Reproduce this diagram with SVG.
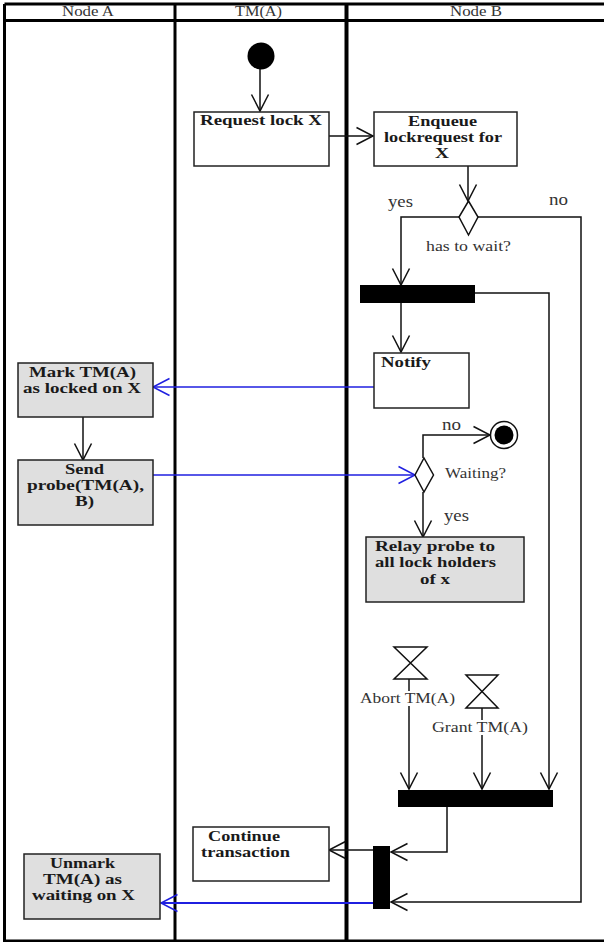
<svg xmlns="http://www.w3.org/2000/svg" width="604" height="942" viewBox="0 0 604 942">
<style>
text{font-family:"Liberation Serif","Times New Roman",serif;fill:#222}
.b{font-weight:bold;font-size:15px;fill:#1a1a1a}
.r{font-size:14px;fill:#333}
.l{font-size:17px;fill:#333}
.act{fill:#fff;stroke:#222;stroke-width:1.500}
.gray{fill:#dfdfdf}
.bar{fill:#000}
.c{fill:none;stroke:#111;stroke-width:1.500}
.blue{fill:none;stroke:#1f1fe0;stroke-width:1.500}
.d{fill:#fff;stroke:#111;stroke-width:1.500}
.frame{fill:none;stroke:#000}
</style>
<defs>
<marker id="a" markerUnits="userSpaceOnUse" markerWidth="20" markerHeight="22" refX="17" refY="10" orient="auto" overflow="visible"><path d="M0.500 1.500L17 10L0.500 18.500" fill="none" stroke="#111" stroke-width="1.500"/></marker>
<marker id="ab" markerUnits="userSpaceOnUse" markerWidth="20" markerHeight="22" refX="17" refY="10" orient="auto" overflow="visible"><path d="M0.500 1.500L17 10L0.500 18.500" fill="none" stroke="#1f1fe0" stroke-width="1.500"/></marker>
</defs>
<g id="swimlanes">
<path class="frame" stroke-width="3" d="M4.500 4H604M4.500 20.500H604M4.500 4V941H604"/>
<path class="frame" stroke-width="3" d="M175 4V941"/>
<path class="frame" stroke-width="4" d="M346.500 4V941"/>
<text class="r" x="62" y="16" textLength="52" lengthAdjust="spacingAndGlyphs">Node A</text>
<text class="r" x="235" y="16" textLength="47" lengthAdjust="spacingAndGlyphs">TM(A)</text>
<text class="r" x="450" y="16" textLength="52" lengthAdjust="spacingAndGlyphs">Node B</text>
</g>
<g id="connectors">
<path class="c" marker-end="url(#a)" d="M260 69V111"/>
<path class="c" marker-end="url(#a)" d="M329 136H373"/>
<path class="c" marker-end="url(#a)" d="M468 166V201"/>
<path class="c" marker-end="url(#a)" d="M459 217H401V285"/>
<path class="c" marker-end="url(#a)" d="M478 217H581V902H391"/>
<path class="c" marker-end="url(#a)" d="M401 302V352"/>
<path class="c" marker-end="url(#a)" d="M475 293H549V789"/>
<path class="blue" marker-end="url(#ab)" d="M374 387H153"/>
<path class="c" marker-end="url(#a)" d="M83 417V460"/>
<path class="blue" marker-end="url(#ab)" d="M153 475H415"/>
<path class="c" marker-end="url(#a)" d="M423 458V435H490"/>
<path class="c" marker-end="url(#a)" d="M423 492V537"/>
<path class="c" marker-end="url(#a)" d="M409 679V789"/>
<path class="c" marker-end="url(#a)" d="M482 708V789"/>
<path class="c" marker-end="url(#a)" d="M447 807V852H391"/>
<path class="c" marker-end="url(#a)" d="M373 850H329"/>
<path class="blue" style="stroke-width:2" marker-end="url(#ab)" d="M373 903H161"/>
</g>
<g id="start"><circle cx="261" cy="56" r="13.500" fill="#000"/></g>
<g id="request-lock"><rect class="act" x="194" y="112" width="135" height="54"/><text class="b" x="200" y="125" textLength="122" lengthAdjust="spacingAndGlyphs">Request lock X</text></g>
<g id="enqueue"><rect class="act" x="374" y="112" width="143" height="54"/>
<text class="b" x="408" y="126" textLength="69" lengthAdjust="spacingAndGlyphs">Enqueue</text>
<text class="b" x="384" y="142" textLength="118" lengthAdjust="spacingAndGlyphs">lockrequest for</text>
<text class="b" x="435" y="158" textLength="14" lengthAdjust="spacingAndGlyphs">X</text></g>
<g id="has-to-wait"><path class="d" d="M468.500 201L478 217L468.500 235L459 217Z"/>
<text class="l" x="388" y="207" textLength="25" lengthAdjust="spacingAndGlyphs">yes</text>
<text class="l" x="549" y="205" textLength="19" lengthAdjust="spacingAndGlyphs">no</text>
<text class="r" x="426" y="251" textLength="85" lengthAdjust="spacingAndGlyphs">has to wait?</text></g>
<g id="fork-1"><rect class="bar" x="360" y="285" width="115" height="18"/></g>
<g id="notify"><rect class="act" x="374" y="353" width="95" height="55"/><text class="b" x="381" y="367" textLength="50" lengthAdjust="spacingAndGlyphs">Notify</text></g>
<g id="mark"><rect class="act gray" x="18" y="363" width="135" height="54"/>
<text class="b" x="29" y="377" textLength="107" lengthAdjust="spacingAndGlyphs">Mark TM(A)</text>
<text class="b" x="23" y="393" textLength="118" lengthAdjust="spacingAndGlyphs">as locked on X</text></g>
<g id="send"><rect class="act gray" x="18" y="460" width="135" height="65"/>
<text class="b" x="65" y="474" textLength="39" lengthAdjust="spacingAndGlyphs">Send</text>
<text class="b" x="27" y="490" textLength="117" lengthAdjust="spacingAndGlyphs">probe(TM(A),</text>
<text class="b" x="75" y="506" textLength="19" lengthAdjust="spacingAndGlyphs">B)</text></g>
<g id="waiting"><path class="d" d="M424 458L433.500 475L424 492L415 475Z"/>
<text class="l" x="442" y="430" textLength="19" lengthAdjust="spacingAndGlyphs">no</text>
<text class="r" x="445" y="478" textLength="61" lengthAdjust="spacingAndGlyphs">Waiting?</text>
<text class="l" x="444" y="521" textLength="25" lengthAdjust="spacingAndGlyphs">yes</text></g>
<g id="end"><circle cx="504" cy="435" r="13.500" fill="#fff" stroke="#111" stroke-width="1.500"/><circle cx="504" cy="435" r="9.500" fill="#000"/></g>
<g id="relay"><rect class="act gray" x="366" y="537" width="158" height="65"/>
<text class="b" x="375" y="551" textLength="120" lengthAdjust="spacingAndGlyphs">Relay probe to</text>
<text class="b" x="375" y="567" textLength="121" lengthAdjust="spacingAndGlyphs">all lock holders</text>
<text class="b" x="420" y="584" textLength="30" lengthAdjust="spacingAndGlyphs">of x</text></g>
<g id="abort"><path class="d" d="M394 647H427L394 679H427Z"/>
<rect x="358" y="691" width="99" height="15" fill="#fff"/>
<text class="r" x="360" y="703" textLength="95" lengthAdjust="spacingAndGlyphs">Abort TM(A)</text></g>
<g id="grant"><path class="d" d="M466 675H498L466 708H498Z"/>
<rect x="430" y="720" width="100" height="15" fill="#fff"/>
<text class="r" x="432" y="732" textLength="96" lengthAdjust="spacingAndGlyphs">Grant TM(A)</text></g>
<g id="join-1"><rect class="bar" x="398" y="790" width="155" height="17"/></g>
<g id="join-2"><rect class="bar" x="373" y="846" width="17" height="63"/></g>
<g id="continue"><rect class="act" x="193" y="827" width="136" height="54"/>
<text class="b" x="208" y="841" textLength="72" lengthAdjust="spacingAndGlyphs">Continue</text>
<text class="b" x="201" y="857" textLength="89" lengthAdjust="spacingAndGlyphs">transaction</text></g>
<g id="unmark"><rect class="act gray" x="24" y="854" width="136" height="65"/>
<text class="b" x="50" y="868" textLength="65" lengthAdjust="spacingAndGlyphs">Unmark</text>
<text class="b" x="43" y="884" textLength="79" lengthAdjust="spacingAndGlyphs">TM(A) as</text>
<text class="b" x="32" y="900" textLength="103" lengthAdjust="spacingAndGlyphs">waiting on X</text></g>
</svg>
